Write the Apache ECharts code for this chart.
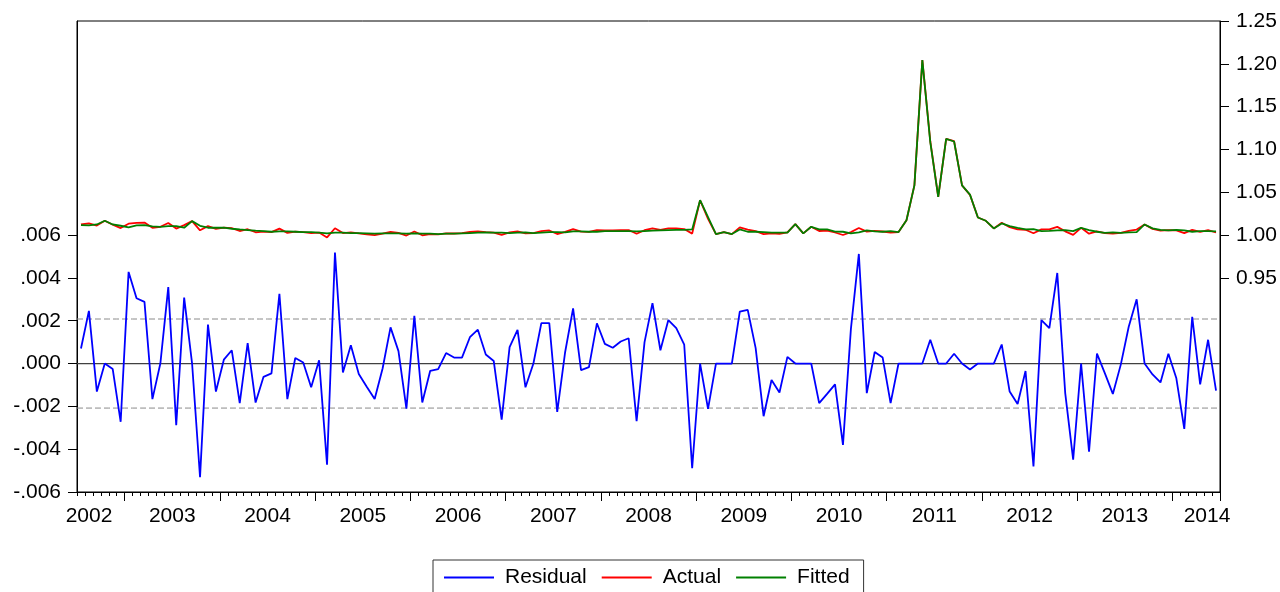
<!DOCTYPE html>
<html>
<head>
<meta charset="utf-8">
<script src="https://cdn.jsdelivr.net/npm/echarts@6/dist/echarts.min.js"></script>
<style>
html,body{margin:0;padding:0;background:#fff;}
#chart{width:1280px;height:592px;}
</style>
</head>
<body>
<div id="chart"></div>
<script>
// Monthly observations 2002M07 .. 2014M06
const startYear = 2002, startMonth = 7, nObs = 144;
const months = [];
for (let k = 0; k < nObs; k++) {
  const m = startMonth - 1 + k;
  const y = startYear + Math.floor(m / 12);
  const mm = (m % 12) + 1;
  months.push(y + 'M' + (mm < 10 ? '0' + mm : mm));
}
const yearLabels = ['2002','2003','2004','2005','2006','2007','2008','2009','2010','2011','2012','2013','2014'];
const leftTickValues = [-0.006, -0.004, -0.002, 0, 0.002, 0.004, 0.006];
const rightTickValues = [0.95, 1.00, 1.05, 1.10, 1.15, 1.20, 1.25];
const zeroLine = 0;
const seBands = [-0.00208, 0.00208];

const residual = [
 0.0007, 0.00246, -0.00131, 0.0, -0.00026, -0.00272,
 0.00428, 0.00305, 0.00288, -0.00166, 0.0, 0.00357, -0.00288, 0.00308, 0.0, -0.00531, 0.00182, -0.00131,
 0.00018, 0.00062, -0.00185, 0.00095, -0.00182, -0.00062, -0.00046, 0.00326, -0.00166, 0.00026, 0.00005, -0.00111,
 0.00015, -0.00472, 0.00518, -0.00042, 0.00085, -0.00049, -0.00108, -0.00166, -0.00023, 0.00169, 0.00058, -0.00211,
 0.00223, -0.00182, -0.00034, -0.00026, 0.00049, 0.00028, 0.00028, 0.00123, 0.00158, 0.00042, 0.00012, -0.00262,
 0.00077, 0.00157, -0.00111, 0.0, 0.00189, 0.00189, -0.00226, 0.00054, 0.00258, -0.00031, -0.00017, 0.00188,
 0.00092, 0.00074, 0.00103, 0.00118, -0.00269, 0.00100, 0.00282, 0.00062, 0.00203, 0.00165, 0.00088, -0.00489,
 0.0, -0.00212, 0.0, 0.0, 0.0, 0.00242, 0.00251, 0.00072, -0.00246, -0.00077, -0.00135, 0.00031,
 0.0, 0.0, 0.0, -0.00185, -0.00142, -0.00097, -0.0038, 0.00162, 0.00512, -0.00138, 0.00054, 0.00028,
 -0.00185, 0.0, 0.0, 0.0, 0.0, 0.00111, 0.0, 0.0, 0.00046, 0.0, -0.00028, 0.0,
 0.0, 0.0, 0.00089, -0.00131, -0.00189, -0.00035, -0.00481, 0.00203, 0.00165, 0.00423, -0.00138, -0.00449,
 0.0, -0.00412, 0.00046, -0.00046, -0.00142, -0.00005, 0.00172, 0.00300, 0.0, -0.00051, -0.00088, 0.00046,
 -0.00069, -0.00305, 0.00218, -0.00097, 0.00111, -0.00126
];

const actual = [
 1.0124, 1.01376, 1.01109, 1.0167, 1.01214, 1.00818,
 1.01328, 1.01435, 1.01458, 1.00844, 1.0097, 1.01407, 1.00762, 1.01168, 1.0163, 1.00559, 1.01042, 1.00729,
 1.00878, 1.00802, 1.00475, 1.00685, 1.00328, 1.00408, 1.00344, 1.00756, 1.00264, 1.00416, 1.00355, 1.00239,
 1.00295, 0.99728, 1.00798, 1.00238, 1.00325, 1.00191, 1.00092, 0.99994, 1.00177, 1.00369, 1.00258, 0.99949,
 1.00423, 0.99978, 1.00126, 1.00094, 1.00209, 1.00188, 1.00228, 1.00363, 1.00438, 1.00352, 1.00292, 1.00018,
 1.00317, 1.00437, 1.00199, 1.0024, 1.00469, 1.00539, 1.00124, 1.00364, 1.00688, 1.00399, 1.00373, 1.00578,
 1.00562, 1.00544, 1.00573, 1.00588, 1.00161, 1.0057, 1.00792, 1.00612, 1.00793, 1.00785, 1.00708, 1.00171,
 1.0407, 1.01888, 1.0012, 1.0035, 1.0012, 1.00902, 1.00641, 1.00462, 1.00104, 1.00203, 1.00145, 1.00311,
 1.0128, 1.0020, 1.0097, 1.00475, 1.00518, 1.00303, 1.0001, 1.00352, 1.00822, 1.00402, 1.00484, 1.00418,
 1.00285, 1.0035, 1.0174, 1.0581, 1.2043, 1.10961, 1.0446, 1.1124, 1.10976, 1.0581, 1.04702, 1.0205,
 1.0167, 1.0078, 1.01449, 1.00919, 1.00661, 1.00625, 1.00219, 1.00673, 1.00665, 1.00963, 1.00442, 1.00021,
 1.0085, 1.00168, 1.00436, 1.00224, 1.00168, 1.00265, 1.00482, 1.0065, 1.0124, 1.00729, 1.00532, 1.00586,
 1.00551, 1.00235, 1.00608, 1.00373, 1.00581, 1.00304
];

const fitted = [
 1.0117, 1.0113, 1.0124, 1.0167, 1.0124, 1.0109,
 1.0090, 1.0113, 1.0117, 1.0101, 1.0097, 1.0105, 1.0105, 1.0086, 1.0163, 1.0109, 1.0086, 1.0086,
 1.0086, 1.0074, 1.0066, 1.0059, 1.0051, 1.0047, 1.0039, 1.0043, 1.0043, 1.0039, 1.0035, 1.0035,
 1.0028, 1.0020, 1.0028, 1.0028, 1.0024, 1.0024, 1.0020, 1.0016, 1.0020, 1.0020, 1.0020, 1.0016,
 1.0020, 1.0016, 1.0016, 1.0012, 1.0016, 1.0016, 1.0020, 1.0024, 1.0028, 1.0031, 1.0028, 1.0028,
 1.0024, 1.0028, 1.0031, 1.0024, 1.0028, 1.0035, 1.0035, 1.0031, 1.0043, 1.0043, 1.0039, 1.0039,
 1.0047, 1.0047, 1.0047, 1.0047, 1.0043, 1.0047, 1.0051, 1.0055, 1.0059, 1.0062, 1.0062, 1.0066,
 1.0407, 1.0210, 1.0012, 1.0035, 1.0012, 1.0066, 1.0039, 1.0039, 1.0035, 1.0028, 1.0028, 1.0028,
 1.0128, 1.0020, 1.0097, 1.0066, 1.0066, 1.0040, 1.0039, 1.0019, 1.0031, 1.0054, 1.0043, 1.0039,
 1.0047, 1.0035, 1.0174, 1.0581, 1.2043, 1.1085, 1.0446, 1.1124, 1.1093, 1.0581, 1.0473, 1.0205,
 1.0167, 1.0078, 1.0136, 1.0105, 1.0085, 1.0066, 1.0070, 1.0047, 1.0050, 1.0054, 1.0058, 1.0047,
 1.0085, 1.0058, 1.0039, 1.0027, 1.0031, 1.0027, 1.0031, 1.0035, 1.0124, 1.0078, 1.0062, 1.0054,
 1.0062, 1.0054, 1.0039, 1.0047, 1.0047, 1.0043
];

// boundary slots for year labels (one per month boundary, 0..nObs)
const boundarySlots = [];
for (let k = 0; k <= nObs; k++) {
  const idx = (k % 12 === 0) ? k / 12 : -1;
  boundarySlots.push(idx >= 0 && idx < yearLabels.length ? yearLabels[idx] : '');
}
// horizontal reference lines spanning the full plot width (on the boundary axis)
const flat = v => boundarySlots.map(() => v);

const FONT = "'Liberation Sans', Arial, sans-serif";
const chart = echarts.init(document.getElementById('chart'), null, {renderer: 'canvas'});

const refSeries = (name, value, color, width, type) => ({
  name: name, type: 'line', xAxisIndex: 2, yAxisIndex: 0, data: flat(value),
  symbol: 'none', showSymbol: false, silent: true, z: 2,
  lineStyle: {color: color, width: width, type: type}, itemStyle: {color: color}
});

const option = {
  animation: false,
  backgroundColor: '#fff',
  grid: {left: 77, right: 60, top: 21, bottom: 100, show: true, borderColor: '#000', borderWidth: 1, backgroundColor: 'transparent'},
  legend: {
    data: [
      {name: 'Residual', icon: 'rect'},
      {name: 'Actual', icon: 'rect'},
      {name: 'Fitted', icon: 'rect'}
    ],
    left: 433, top: 560,
    padding: [7, 14, 7, 11],
    itemWidth: 50, itemHeight: 2, itemGap: 15,
    borderColor: '#333', borderWidth: 1,
    textStyle: {fontFamily: FONT, fontSize: 21, color: '#000', padding: [0, 0, 0, 6]}
  },
  xAxis: [
    {
      type: 'category', data: months, boundaryGap: true, position: 'bottom',
      axisLine: {show: true, onZero: false, lineStyle: {color: '#000', width: 1}},
      axisTick: {show: true, interval: 0, length: 4, lineStyle: {color: '#000'}},
      axisLabel: {show: false}, splitLine: {show: false}
    },
    {
      type: 'category', data: months, boundaryGap: true, position: 'bottom',
      axisLine: {show: false, onZero: false},
      axisTick: {show: true, length: 9, lineStyle: {color: '#000'}, interval: function (i) { return i % 12 === 6; }},
      axisLabel: {show: false}, splitLine: {show: false}
    },
    {
      type: 'category', data: boundarySlots, boundaryGap: false, position: 'bottom',
      axisLine: {show: false, onZero: false}, axisTick: {show: false}, splitLine: {show: false},
      axisLabel: {
        show: true, interval: 0, margin: 14,
        fontFamily: FONT, fontSize: 21, color: '#000',
        formatter: function (v, i) {
          if (!v) return '';
          if (i === 0) return '{a|' + v + '}';
          if (i === nObs) return '{b|' + v + '}';
          return v;
        },
        rich: {
          a: {fontFamily: FONT, fontSize: 21, color: '#000', padding: [0, 0, 0, 24]},
          b: {fontFamily: FONT, fontSize: 21, color: '#000', padding: [0, 26, 0, 0]}
        }
      }
    }
  ],
  yAxis: [
    {
      type: 'value', position: 'left', min: -0.006, max: 0.016, interval: 0.002,
      axisLine: {show: true, onZero: false, lineStyle: {color: '#000'}},
      axisTick: {show: true, length: 9, lineStyle: {color: '#000'}, customValues: leftTickValues},
      axisLabel: {
        show: true, margin: 16, fontFamily: FONT, fontSize: 21, color: '#000',
        customValues: leftTickValues,
        formatter: function (v) { return v.toFixed(3).replace('0.', '.'); }
      },
      splitLine: {show: false}
    },
    {
      type: 'value', position: 'right', min: 0.70, max: 1.25, interval: 0.05,
      axisLine: {show: true, onZero: false, lineStyle: {color: '#000'}},
      axisTick: {show: true, length: 9, lineStyle: {color: '#000'}, customValues: rightTickValues},
      axisLabel: {
        show: true, margin: 16, fontFamily: FONT, fontSize: 21, color: '#000',
        customValues: rightTickValues,
        formatter: function (v) { return v.toFixed(2); }
      },
      splitLine: {show: false}
    }
  ],
  series: [
    refSeries('zero', zeroLine, '#404040', 1.2, 'solid'),
    refSeries('seLow', seBands[0], '#8a8a8a', 1, [6, 3]),
    refSeries('seHigh', seBands[1], '#8a8a8a', 1, [6, 3]),
    {
      name: 'Residual', type: 'line', xAxisIndex: 0, yAxisIndex: 0, data: residual,
      symbol: 'none', showSymbol: false, lineStyle: {color: '#0000ff', width: 1.8}, itemStyle: {color: '#0000ff'},
      z: 3
    },
    {
      name: 'Actual', type: 'line', xAxisIndex: 0, yAxisIndex: 1, data: actual,
      symbol: 'none', showSymbol: false, lineStyle: {color: '#ff0000', width: 1.8}, itemStyle: {color: '#ff0000'}, z: 4
    },
    {
      name: 'Fitted', type: 'line', xAxisIndex: 0, yAxisIndex: 1, data: fitted,
      symbol: 'none', showSymbol: false, lineStyle: {color: '#008000', width: 1.8}, itemStyle: {color: '#008000'}, z: 5
    }
  ]
};
chart.setOption(option);
</script>
</body>
</html>
